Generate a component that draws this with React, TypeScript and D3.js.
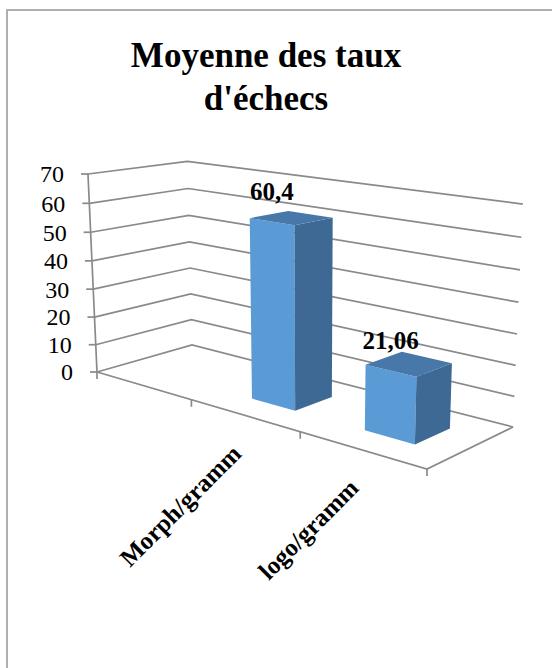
import React from "react";
import * as d3 from "d3";

// Chart data
const categories = ["", "Morph/gramm", "logo/gramm"];
const values: (number | null)[] = [null, 60.4, 21.06];
const yTicks = [0, 10, 20, 30, 40, 50, 60, 70];
const titleLines = ["Moyenne des taux", "d'échecs"];

// Layout
const WIDTH = 552;
const HEIGHT = 668;
const FONT = "'Liberation Serif', 'Times New Roman', serif";
// Floor corners on screen, in order (x,z): (0,0) front-left, (1,0) front-right, (1,1) back-right, (0,1) back-left
const FLOOR: [number, number][] = [
  [97, 372],
  [427, 469],
  [513, 427],
  [192, 345],
];
const AXIS_TOP: [number, number] = [88, 174]; // top of the value axis at the front-left corner
const VANISH: [number, number] = [310, 5045]; // vanishing point of the vertical edges
const BAR_Z0 = 0.3;
const BAR_Z1 = 0.7;

const GRID = "#8a8a8a";
const FRONT = "#5b9bd5";
const SIDE = "#3d6994";
const TOP = "#4778a9";

// Square-to-quad projective map for the floor plane
function floorMap(q: [number, number][]) {
  const [[x0, y0], [x1, y1], [x2, y2], [x3, y3]] = q;
  const sx = x0 - x1 + x2 - x3;
  const sy = y0 - y1 + y2 - y3;
  const dx1 = x1 - x2, dx2 = x3 - x2, dy1 = y1 - y2, dy2 = y3 - y2;
  const det = dx1 * dy2 - dx2 * dy1;
  const g = (sx * dy2 - dx2 * sy) / det;
  const h = (dx1 * sy - sx * dy1) / det;
  return {
    a: x1 - x0 + g * x1,
    b: x3 - x0 + h * x3,
    c: x0,
    d: y1 - y0 + g * y1,
    e: y3 - y0 + h * y3,
    f: y0,
    g,
    h,
  };
}

const M = floorMap(FLOOR);
// vertical column weight so that t = 1 reaches AXIS_TOP above the front-left corner
const K = (AXIS_TOP[1] - FLOOR[0][1]) / (VANISH[1] - AXIS_TOP[1]);

// u: across categories [0,1], t: normalized value [0,1], v: depth [0,1]
function project(u: number, t: number, v: number): [number, number] {
  const U = M.a * u + M.b * v + M.c + t * K * VANISH[0];
  const V = M.d * u + M.e * v + M.f + t * K * VANISH[1];
  const Wd = M.g * u + M.h * v + 1 + t * K;
  return [U / Wd, V / Wd];
}

const yScale = d3.scaleLinear().domain([0, 70]).range([0, 1]);
const xBand = d3
  .scaleBand<string>()
  .domain(categories)
  .range([0, 1])
  .paddingInner(0.6)
  .paddingOuter(0.3);

const line = d3.line<[number, number]>();
const poly = (pts: [number, number][]) => line(pts) + "Z";
const fmt = (v: number) => String(v).replace(".", ",");

export default function App() {
  const step = 1 / categories.length;
  const catEdges = d3.range(categories.length + 1).map((i) => i * step);

  const bars = categories
    .map((c, i) => ({ c, v: values[i] }))
    .filter((d) => d.v !== null) as { c: string; v: number }[];

  return (
    <svg
      width={WIDTH}
      height={HEIGHT}
      style={{ position: "absolute", left: 0, top: 0, background: "#fff" }}
      fontFamily={FONT}
    >
      {/* chart frame */}
      <path d="M7,700 V10 H560" fill="none" stroke="#b0b0b0" strokeWidth={2} />

      {/* title */}
      {titleLines.map((t, i) => (
        <text
          key={t}
          x={266}
          y={67 + i * 43}
          textAnchor="middle"
          fontSize={35}
          fontWeight="bold"
          fill="#000"
        >
          {t}
        </text>
      ))}

      {/* side and back wall gridlines */}
      {yTicks.map((tv) => {
        const t = yScale(tv);
        return (
          <path
            key={tv}
            d={line([project(0, t, 0), project(0, t, 1), project(1, t, 1)]) as string}
            fill="none"
            stroke={GRID}
            strokeWidth={1.7}
          />
        );
      })}

      {/* floor edges */}
      <path
        d={line([project(0, 0, 0), project(1, 0, 0), project(1, 0, 1)]) as string}
        fill="none"
        stroke={GRID}
        strokeWidth={1.7}
      />

      {/* value axis */}
      <path
        d={line([project(0, 0, 0), project(0, 1, 0)]) as string}
        fill="none"
        stroke={GRID}
        strokeWidth={1.7}
      />
      {yTicks.map((tv) => {
        const [x, y] = project(0, yScale(tv), 0);
        return (
          <g key={tv}>
            <line x1={x - 7} x2={x} y1={y} y2={y} stroke={GRID} strokeWidth={1.7} />
            <text
              x={x - 24}
              y={y}
              dy="0.35em"
              textAnchor="end"
              fontSize={24}
              fill="#000"
            >
              {tv}
            </text>
          </g>
        );
      })}

      {/* category ticks */}
      {catEdges.map((u, i) => {
        const [x, y] = project(u, 0, 0);
        return <line key={i} x1={x} x2={x} y1={y} y2={y + 7} stroke={GRID} strokeWidth={1.7} />;
      })}

      {/* bars */}
      {bars.map((d) => {
        const u0 = xBand(d.c) as number;
        const u1 = u0 + xBand.bandwidth();
        const t = yScale(d.v);
        const front: [number, number][] = [
          project(u0, 0, BAR_Z0),
          project(u1, 0, BAR_Z0),
          project(u1, t, BAR_Z0),
          project(u0, t, BAR_Z0),
        ];
        const side: [number, number][] = [
          project(u1, 0, BAR_Z0),
          project(u1, 0, BAR_Z1),
          project(u1, t, BAR_Z1),
          project(u1, t, BAR_Z0),
        ];
        const top: [number, number][] = [
          project(u0, t, BAR_Z0),
          project(u1, t, BAR_Z0),
          project(u1, t, BAR_Z1),
          project(u0, t, BAR_Z1),
        ];
        const [lx, ly] = project((u0 + u1) / 2, t, BAR_Z0);
        return (
          <g key={d.c}>
            <path d={poly(front)} fill={FRONT} />
            <path d={poly(side)} fill={SIDE} />
            <path d={poly(top)} fill={TOP} />
            <text
              x={lx}
              y={ly - 22}
              textAnchor="middle"
              fontSize={25}
              fontWeight="bold"
              fill="#000"
            >
              {fmt(d.v)}
            </text>
          </g>
        );
      })}

      {/* category labels */}
      {categories.map((c, i) => {
        if (!c) return null;
        const [x, y] = project((i + 0.5) * step, 0, 0);
        return (
          <text
            key={c}
            transform={`translate(${x - 1},${y + 40}) rotate(-45)`}
            textAnchor="end"
            fontSize={25}
            fontWeight="bold"
            fill="#000"
          >
            {c}
          </text>
        );
      })}
    </svg>
  );
}
